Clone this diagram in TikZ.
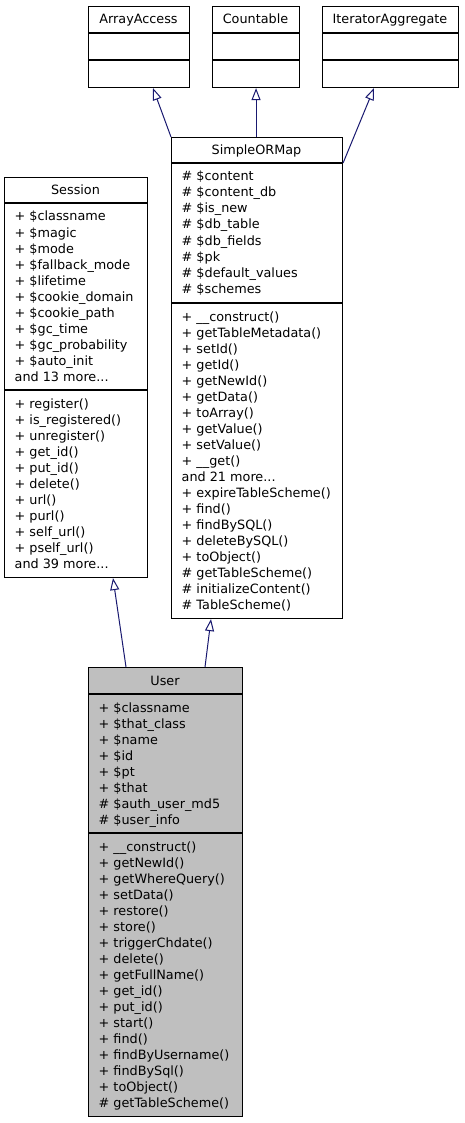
\documentclass[tikz,border=0pt]{standalone}
\usepackage{fontspec}
\setmainfont{DejaVu Sans}
\usetikzlibrary{arrows.meta,calc}
\definecolor{edgeblue}{HTML}{191970}
\definecolor{usergray}{HTML}{BFBFBF}
\newcommand{\myell}{...}
\newcommand{\classlines}[4]{\foreach \ltxt [count=\i from 0] in {#4} {\node[txt] (#1\i) at (#2,{#3+16*\i}) {\ltxt};}}
\begin{document}
\begin{tikzpicture}[x=1pt,y=-1pt,
  box/.style={draw=black, line width=1.1pt, inner sep=0pt, anchor=north west},
  sepline/.style={line width=1.8pt},
  txt/.style={anchor=base west, inner sep=0pt, font=\fontsize{12.8}{16}\selectfont},
  ttl/.style={anchor=base, inner sep=0pt, font=\fontsize{12.8}{16}\selectfont},
  inh/.style={draw=edgeblue, line width=1pt, -{Triangle[open,length=12pt,width=9pt]}}]
\useasboundingbox[fill=white] (0,0) rectangle (464,1123);

% interfaces
\node[box, minimum width=101pt, minimum height=81pt] (aa) at (88,6) {};
\draw[sepline] (88,33) -- (189,33) (88,60) -- (189,60);
\node[ttl] (aat) at (138.5,24) {ArrayAccess};

\node[box, minimum width=87pt, minimum height=81pt] (cnt) at (212,6) {};
\draw[sepline] (212,33) -- (299,33) (212,60) -- (299,60);
\node[ttl] (cntt) at (255.5,24) {Countable};

\node[box, minimum width=136pt, minimum height=81pt] (ia) at (322,6) {};
\draw[sepline] (322,33) -- (458,33) (322,60) -- (458,60);
\node[ttl] (iat) at (390,24) {IteratorAggregate};

% SimpleORMap
\node[box, minimum width=171pt, minimum height=481pt] (som) at (171,137) {};
\draw[sepline] (171,163) -- (342,163) (171,303) -- (342,303);
\node[ttl] (somt) at (256.5,155) {SimpleORMap};
\classlines{soma}{181.5}{181}{\# \$content, \# \$content\_db, \# \$is\_new, \# \$db\_table, \# \$db\_fields, \# \$pk, \# \$default\_values, \# \$schemes}
\classlines{somm}{181.5}{321}{+ \_\_construct(), + getTableMetadata(), + setId(), + getId(), + getNewId(), + getData(), + toArray(), + getValue(), + setValue(), + \_\_get(), and 21 more\myell, + expireTableScheme(), + find(), + findBySQL(), + deleteBySQL(), + toObject(), \# getTableScheme(), \# initializeContent(), \# TableScheme()}

% Session
\node[box, minimum width=143pt, minimum height=400pt] (session) at (4,177) {};
\draw[sepline] (4,203) -- (147,203) (4,390) -- (147,390);
\node[ttl] (sessiont) at (75.5,195) {Session};
\classlines{sesa}{14.5}{221}{+ \$classname, + \$magic, + \$mode, + \$fallback\_mode, + \$lifetime, + \$cookie\_domain, + \$cookie\_path, + \$gc\_time, + \$gc\_probability, + \$auto\_init, and 13 more\myell}
\classlines{sesm}{14.5}{408}{+ register(), + is\_registered(), + unregister(), + get\_id(), + put\_id(), + delete(), + url(), + purl(), + self\_url(), + pself\_url(), and 39 more\myell}

% User
\node[box, fill=usergray, minimum width=154pt, minimum height=449pt] (user) at (88,667) {};
\draw[sepline] (88,694) -- (242,694) (88,833) -- (242,833);
\node[ttl] (usert) at (165,685) {User};
\classlines{usra}{98.5}{712}{+ \$classname, + \$that\_class, + \$name, + \$id, + \$pt, + \$that, \# \$auth\_user\_md5, \# \$user\_info}
\classlines{usrm}{98.5}{851}{+ \_\_construct(), + getNewId(), + getWhereQuery(), + setData(), + restore(), + store(), + triggerChdate(), + delete(), + getFullName(), + get\_id(), + put\_id(), + start(), + find(), + findByUsername(), + findBySql(), + toObject(), \# getTableScheme()}

% inheritance
\draw[inh] (som.north west) -- ($(aa.south west)+(65,0)$);
\draw[inh] (cnt.south |- som.north) -- (cnt.south);
\draw[inh] ($(som.north east)+(0,26)$) -- ($(ia.south west)+(52,0)$);
\draw[inh] ($(user.north west)+(38,0)$) -- ($(session.south west)+(109,0)$);
\draw[inh] ($(user.north west)+(117,0)$) -- ($(som.south west)+(40,0)$);
\end{tikzpicture}
\end{document}
